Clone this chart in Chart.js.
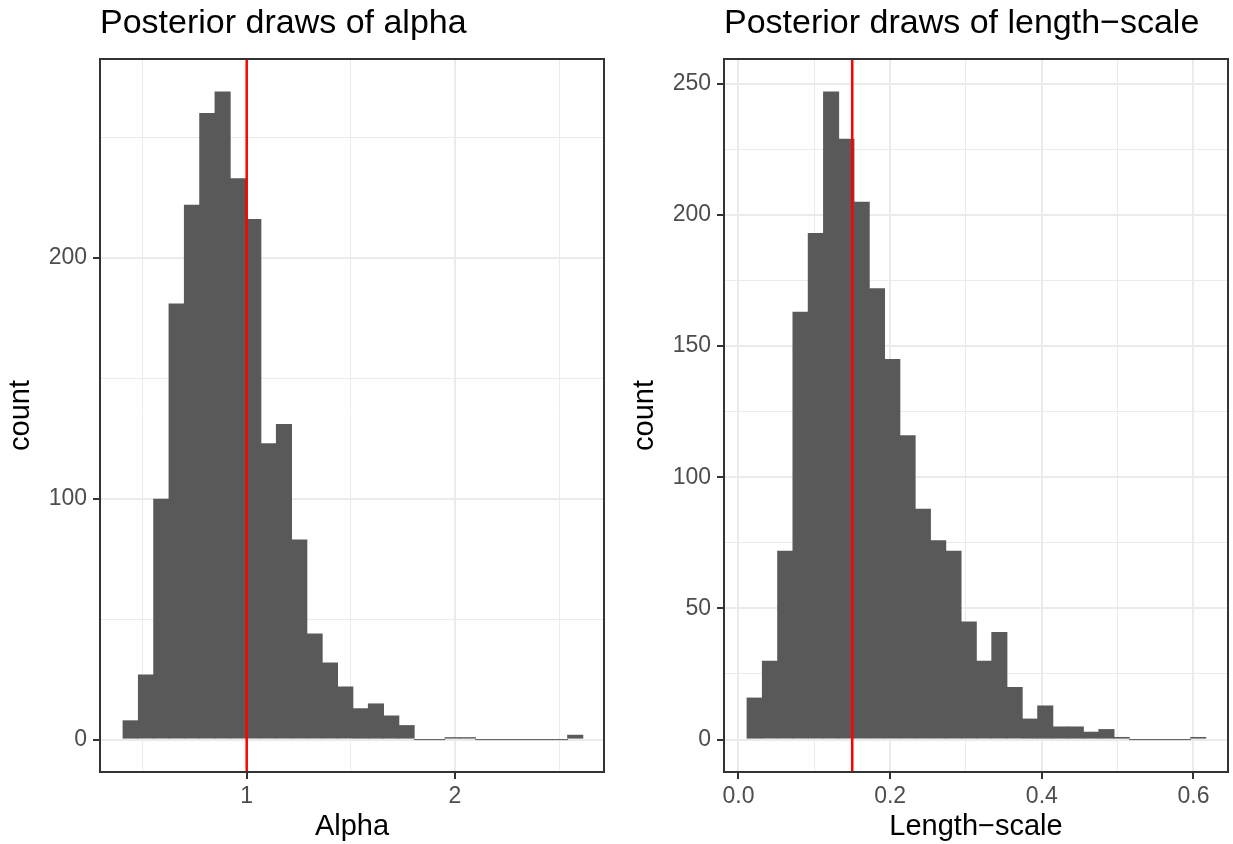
<!DOCTYPE html>
<html>
<head>
<meta charset="utf-8">
<script src="https://cdn.jsdelivr.net/npm/chart.js@4.4.0/dist/chart.umd.min.js"></script>
<style>
  html, body { margin: 0; padding: 0; background: #fff; }
  body { width: 1233px; height: 844px; position: relative; overflow: hidden; }
  canvas { position: absolute; top: 0; }
  #alphaChart { left: 0; }
  #lengthChart { left: 624px; }
</style>
</head>
<body>
<canvas id="alphaChart" width="616" height="844"></canvas>
<canvas id="lengthChart" width="609" height="844"></canvas>
<script>
// histogram counts, 30 bins each
var alphaCounts = [8, 27, 100, 181, 222, 260, 269, 233, 216, 123, 131, 83, 44, 32, 22,
                   13, 15, 10, 6, 0, 0, 1, 1, 0, 0, 0, 0, 0, 0, 2];
var alphaBinStart = 0.406;
var alphaBinWidth = 0.0736;
var alphaRef = 1;
var alphaXRange = [0.2957, 2.7153];
var alphaYRange = [-13.45, 282.45];
var alphaXTicks = [0.5, 1, 1.5, 2, 2.5];
var alphaXLabels = ["", "1", "", "2", ""];
var alphaYTicks = [0, 50, 100, 150, 200, 250];
var alphaYLabels = ["0", "", "100", "", "200", ""];

var lengthCounts = [16, 30, 72, 163, 193, 247, 229, 205, 172, 145, 116, 88, 76, 72, 45,
                    30, 41, 20, 8, 13, 5, 5, 3, 4, 1, 0, 0, 0, 0, 1];
var lengthBinStart = 0.0112;
var lengthBinWidth = 0.02017;
var lengthRef = 0.15;
var lengthXRange = [-0.0191, 0.6455];
var lengthYRange = [-12.35, 259.35];
var lengthXTicks = [0, 0.1, 0.2, 0.3, 0.4, 0.5, 0.6];
var lengthXLabels = ["0.0", "", "0.2", "", "0.4", "", "0.6"];
var lengthYTicks = [0, 25, 50, 75, 100, 125, 150, 175, 200, 225, 250];
var lengthYLabels = ["0", "", "50", "", "100", "", "150", "", "200", "", "250"];

var FONT = "'Liberation Sans', Arial, sans-serif";

var panelBorder = {
  id: "panelBorder",
  afterDraw: function (chart) {
    var a = chart.chartArea;
    var ctx = chart.ctx;
    ctx.save();
    ctx.strokeStyle = "#333333";
    ctx.lineWidth = 2;
    ctx.strokeRect(a.left, a.top, a.right - a.left, a.bottom - a.top);
    ctx.restore();
  }
};

function axisOpts(ticks, labels, range, title, isX) {
  return {
    type: "linear",
    min: range[0],
    max: range[1],
    offset: false,
    afterBuildTicks: function (scale) {
      scale.ticks = ticks.map(function (v) { return { value: v }; });
    },
    afterFit: function (scale) {
      if (isX) scale.height = 72;
      else scale.width = 100;
    },
    border: { display: false },
    grid: {
      offset: false,
      color: "#EBEBEB",
      lineWidth: function (c) { return labels[c.index] ? 2 : 1; },
      tickColor: function (c) { return labels[c.index] ? "#333333" : "rgba(0,0,0,0)"; },
      tickWidth: 2,
      tickLength: 7
    },
    ticks: {
      autoSkip: false,
      maxRotation: 0,
      padding: isX ? 4 : 6,
      color: "#4D4D4D",
      font: { family: FONT, size: 23 },
      callback: function (v, i) { return labels[i]; }
    },
    title: {
      display: true,
      text: title,
      color: "#000000",
      font: { family: FONT, size: 29, lineHeight: 1.2 },
      padding: isX ? { top: 0, bottom: 0 } : { top: 4, bottom: 0 }
    }
  };
}

function makeHist(id, cfg) {
  var bars = cfg.counts.map(function (c, i) {
    return { x: cfg.binStart + (i + 0.5) * cfg.binWidth, y: c };
  });
  new Chart(document.getElementById(id), {
    type: "bar",
    data: {
      datasets: [
        {
          type: "line",
          data: [{ x: cfg.ref, y: cfg.yRange[0] }, { x: cfg.ref, y: cfg.yRange[1] }],
          borderColor: "#FF0000",
          borderWidth: 2.5,
          pointRadius: 0,
          order: 0
        },
        {
          data: bars,
          backgroundColor: "#595959",
          borderWidth: 0,
          barPercentage: 1.05,
          categoryPercentage: 1,
          minBarLength: 1,
          order: 1
        }
      ]
    },
    options: {
      responsive: false,
      animation: false,
      devicePixelRatio: 1,
      layout: { padding: { left: 0, right: cfg.padRight, top: 0, bottom: 0 } },
      plugins: {
        legend: { display: false },
        tooltip: { enabled: false },
        title: {
          display: true,
          text: cfg.title,
          align: "start",
          fullSize: false,
          color: "#000000",
          font: { family: FONT, size: 34, weight: "normal", lineHeight: 1.2 },
          padding: { top: 3.6, bottom: 14.6 }
        }
      },
      scales: {
        x: axisOpts(cfg.xTicks, cfg.xLabels, cfg.xRange, cfg.xTitle, true),
        y: axisOpts(cfg.yTicks, cfg.yLabels, cfg.yRange, "count", false)
      }
    },
    plugins: [panelBorder]
  });
}

makeHist("alphaChart", {
  counts: alphaCounts, binStart: alphaBinStart, binWidth: alphaBinWidth, ref: alphaRef,
  xRange: alphaXRange, yRange: alphaYRange, xTicks: alphaXTicks, xLabels: alphaXLabels,
  yTicks: alphaYTicks, yLabels: alphaYLabels, padRight: 12,
  title: "Posterior draws of alpha", xTitle: "Alpha"
});

makeHist("lengthChart", {
  counts: lengthCounts, binStart: lengthBinStart, binWidth: lengthBinWidth, ref: lengthRef,
  xRange: lengthXRange, yRange: lengthYRange, xTicks: lengthXTicks, xLabels: lengthXLabels,
  yTicks: lengthYTicks, yLabels: lengthYLabels, padRight: 5,
  title: "Posterior draws of length\u2212scale", xTitle: "Length\u2212scale"
});
</script>
</body>
</html>
